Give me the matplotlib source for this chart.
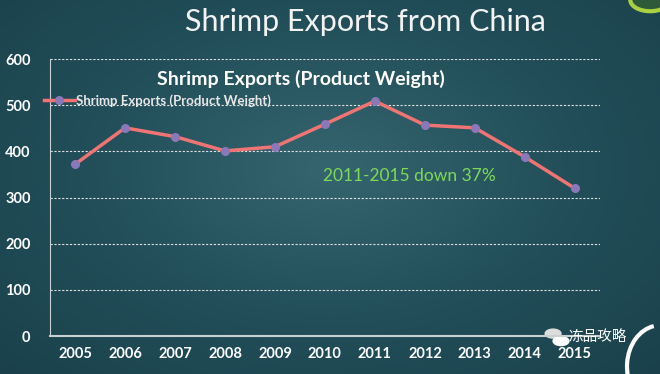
import numpy as np
import matplotlib.pyplot as plt
from matplotlib.patches import Circle, Arc

years = ['2005', '2006', '2007', '2008', '2009', '2010',
         '2011', '2012', '2013', '2014', '2015']
exports = [372, 451, 432, 401, 410, 459, 509, 457, 451, 388, 320]
yticks = [0, 100, 200, 300, 400, 500, 600]

plt.rcParams['font.family'] = ['Lato', 'Noto Sans CJK SC', 'DejaVu Sans']

fig = plt.figure(figsize=(6.6, 3.74), dpi=100)

# dark teal gradient background
bg = fig.add_axes([0, 0, 1, 1])
yy, xx = np.mgrid[0:1:200j, 0:1:300j]
r = np.sqrt((xx - 0.5) ** 2 + ((yy - 0.55) * 0.9) ** 2)
bg.imshow(r, cmap=plt.matplotlib.colors.LinearSegmentedColormap.from_list(
    'bg', ['#35656f', '#224f5a', '#1a414b']), extent=[0, 1, 0, 1],
    aspect='auto', origin='lower')
bg.set_xlim(0, 1)
bg.set_ylim(0, 1)
bg.axis('off')

# decorations
bg.add_patch(Circle((0.985, 1.0), 0.03, transform=bg.transAxes,
                    facecolor='#2e5a3a', edgecolor='#a8d040', lw=3))
bg.add_patch(Arc((1.0, 0.02), 0.1, 0.22, theta1=95, theta2=260,
                 transform=bg.transAxes, color='white', lw=3))

fig.text(0.553, 0.94, 'Shrimp Exports from China', ha='center', va='center',
         fontsize=22, color='#f2f2f2')

ax = fig.add_axes([0.0758, 0.1016, 0.833, 0.7404])
ax.set_facecolor('none')
x = np.arange(len(years))
ax.plot(x, exports, color='#f07474', lw=2.5, marker='o', markersize=5.5,
        markerfacecolor='#8a78b8', markeredgecolor='#8a78b8',
        label='Shrimp Exports (Product Weight)')
ax.set_xlim(-0.5, len(years) - 0.5)
ax.set_ylim(0, 600)
ax.set_yticks(yticks)
ax.set_xticks(x)
ax.set_xticklabels(years)
ax.tick_params(length=0, labelcolor='white', labelsize=10.5, pad=8)
for lab in ax.get_xticklabels() + ax.get_yticklabels():
    lab.set_fontweight('bold')
ax.tick_params(axis='y', pad=14)
ax.grid(axis='y', color='#e0e0e0', ls=(0, (2, 1.5)), lw=0.8)
ax.set_axisbelow(True)
for s in ['top', 'right']:
    ax.spines[s].set_visible(False)
ax.spines['left'].set_color('#c8d0d2')
ax.spines['bottom'].set_color('#c8d0d2')
ax.spines['bottom'].set_linewidth(1.5)

ax.set_title('Shrimp Exports (Product Weight)', color='white', fontsize=14,
             fontweight='bold', x=0.456, y=0.875)
leg = ax.legend(loc='upper left', bbox_to_anchor=(-0.02, 0.893), frameon=False,
                handlelength=2.3, handletextpad=0.1, borderaxespad=0,
                prop={'size': 9.5, 'weight': 'bold'})
for t in leg.get_texts():
    t.set_color('#e8e8e8')

ax.text(0.497, 0.56, '2011-2015 down 37%', transform=ax.transAxes,
        color='#7ed957', fontsize=12.5)

# watermark
fig.text(0.862, 0.1, '冻品攻略', color='white', fontsize=10.5,
         family=['Noto Sans CJK SC', 'DejaVu Sans'], ha='left', va='center')
bg.add_patch(Circle((0.838, 0.108), 0.012, transform=bg.transAxes,
                    color='#dddddd', zorder=5))
bg.add_patch(Circle((0.85, 0.088), 0.012, transform=bg.transAxes,
                    color='#ffffff', zorder=5))

fig.savefig('out.png', dpi=100)
